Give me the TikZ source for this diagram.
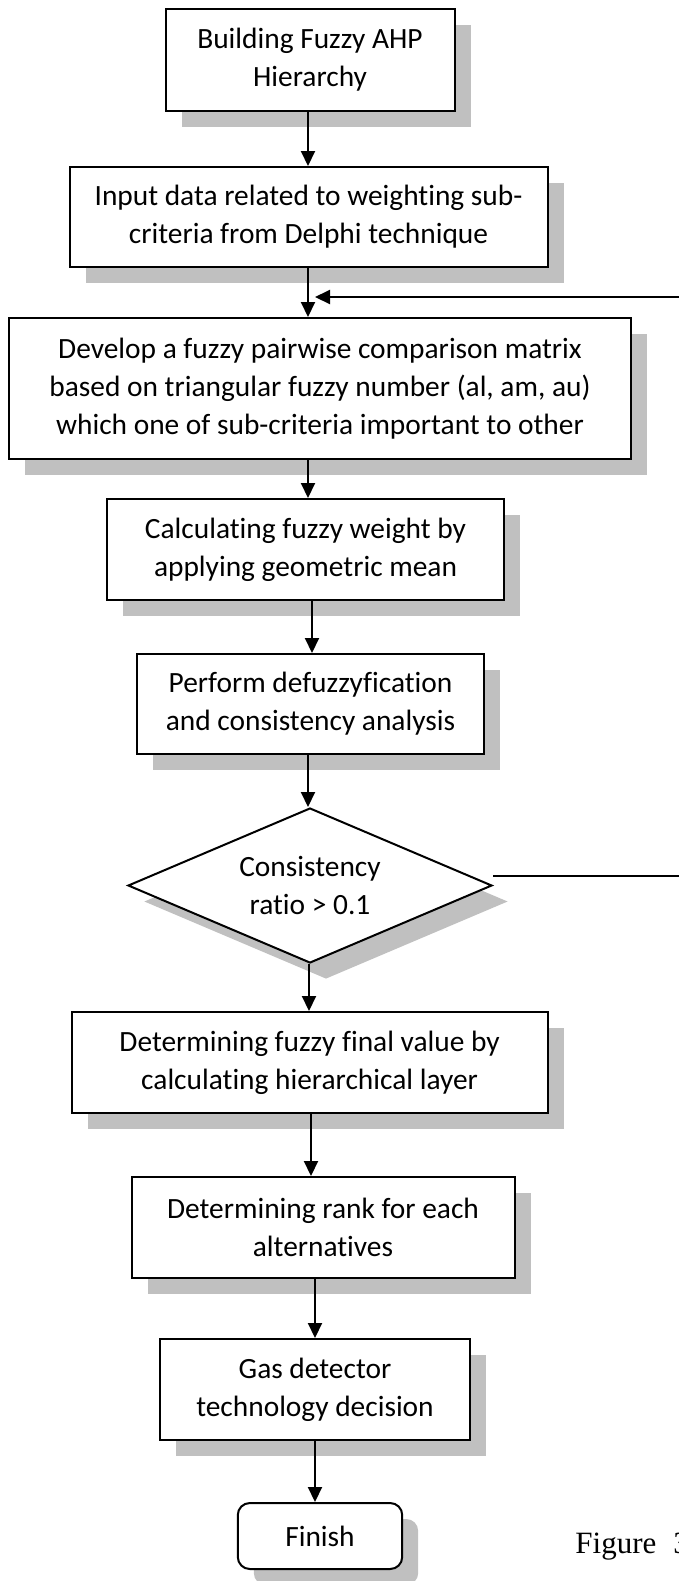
\documentclass[tikz,border=0pt]{standalone}
\usepackage{fontspec}
\setmainfont{Carlito}[Ligatures=NoCommon]
\newfontfamily\captionfont{Liberation Serif}
\usetikzlibrary{shapes.geometric,shadows,arrows.meta}
\definecolor{shadowgray}{RGB}{192,192,192}
\begin{document}
\begin{tikzpicture}[x=0.5pt,y=-0.5pt,
  boxshadow/.style={drop shadow={shadow xshift=8pt,shadow yshift=-8pt,fill=shadowgray,opacity=1}},
  stepbox/.style={draw,line width=1pt,fill=white,boxshadow,align=center,inner sep=0pt,
    font=\fontsize{14.7}{19}\selectfont},
  decision/.style={stepbox,diamond,aspect=2.35},
  endbox/.style={stepbox,rounded corners=6pt},
  arr/.style={line width=1pt,-{Triangle[width=7pt,length=7.5pt]}}
]
\useasboundingbox (0,0) rectangle (679,1581);
\clip (0,0) rectangle (679,1581);

% process steps
\node[stepbox,minimum width=144.5pt,minimum height=50.7pt] (b1) at (310,60)
  {Building Fuzzy AHP\\Hierarchy};
\node[stepbox,minimum width=239pt,minimum height=50pt] (b2) at (308.5,217)
  {Input data related to weighting sub-\\criteria from Delphi technique};
\node[stepbox,minimum width=310.75pt,minimum height=70.5pt] (b3) at (320,388.5)
  {Develop a fuzzy pairwise comparison matrix\\based on triangular fuzzy number (al, am, au)\\which one of sub-criteria important to other};
\node[stepbox,minimum width=198.5pt,minimum height=50.5pt] (b4) at (305.5,549.5)
  {Calculating fuzzy weight by\\applying geometric mean};
\node[stepbox,minimum width=173.5pt,minimum height=50pt] (b5) at (310.5,704)
  {Perform defuzzyfication\\and consistency analysis};
\node[decision,minimum width=182pt,minimum height=77.5pt] (dec) at (310,885.5)
  {Consistency\\ratio > 0.1};
\node[stepbox,minimum width=238pt,minimum height=50.5pt] (b6) at (309.6,1062.5)
  {Determining fuzzy final value by\\calculating hierarchical layer};
\node[stepbox,minimum width=191.5pt,minimum height=50.5pt] (b7) at (323,1227.5)
  {Determining rank for each\\alternatives};
\node[stepbox,minimum width=155.25pt,minimum height=50.5pt] (b8) at (315,1389.5)
  {Gas detector\\technology decision};
\node[endbox,minimum width=82.2pt,minimum height=33pt] (fin) at (320,1536)
  {Finish};

% caption text at the lower right
\node[anchor=base west,inner sep=0pt,font=\captionfont\fontsize{15.5}{18}\selectfont] (cap) at (575,1553)
  {Figure\hspace{8.5pt}3};

% main flow
\draw[arr] ([xshift=-1pt]b1.south) -- ([xshift=-1pt]b1.south |- b2.north);
\draw[arr] ([xshift=-0.25pt]b2.south) -- ([xshift=-0.25pt]b2.south |- b3.north);
\draw[arr] ([xshift=-6pt]b3.south) -- ([xshift=-6pt]b3.south |- b4.north);
\draw[arr] ([xshift=3.25pt]b4.south) -- ([xshift=3.25pt]b4.south |- b5.north);
\draw[arr] ([xshift=-1.25pt]b5.south) -- ([xshift=-1.25pt]b5.south |- dec.north);
\draw[arr] ([xshift=-0.5pt]dec.south) -- ([xshift=-0.5pt]dec.south |- b6.north);
\draw[arr] ([xshift=0.7pt]b6.south) -- ([xshift=0.7pt]b6.south |- b7.north);
\draw[arr] ([xshift=-4pt]b7.south) -- ([xshift=-4pt]b7.south |- b8.north);
\draw[arr] (b8.south) -- (b8.south |- fin.north);

% feedback loop back into the comparison step
\coordinate (join) at (308,297);
\coordinate (loop) at (720,297);
\draw[arr] ([yshift=5pt]dec.east) -| (loop) -- ([xshift=3.5pt]join);
\end{tikzpicture}
\end{document}
